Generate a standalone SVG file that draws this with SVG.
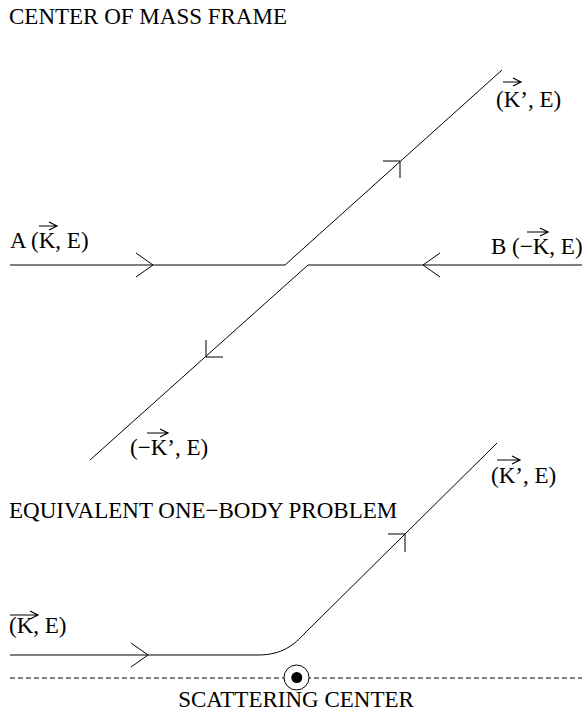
<svg xmlns="http://www.w3.org/2000/svg" width="582" height="715" viewBox="0 0 582 715">
<style>
text{font-family:"Liberation Serif","Times New Roman",serif;font-size:23px;fill:#000}
.ln{fill:none;stroke:#000;stroke-width:1}
.vec{fill:none;stroke:#000;stroke-width:1.2}
</style>
<rect width="582" height="715" fill="#fff"/>
<g id="titles">
<text x="9" y="24">CENTER OF MASS FRAME</text>
<text x="9" y="518">EQUIVALENT ONE−BODY PROBLEM</text>
<text x="296" y="707" text-anchor="middle">SCATTERING CENTER</text>
</g>
<g id="connectors">
<path class="ln" d="M10,265 H285 L502,70"/>
<path class="ln" d="M582,265 H308 L90,460"/>
<path class="ln" d="M136,253 L153,265 L136,277"/>
<path class="ln" d="M440,253 L423,265 L440,277"/>
<path class="ln" d="M383,161 H400 V178"/>
<path class="ln" d="M206,340 V357 H223"/>
<path class="ln" d="M10,655 H258 C282,655 294,645 305,633 L497,443"/>
<path class="ln" d="M131,643 L148,655 L131,667"/>
<path class="ln" d="M388,534 H405 V552"/>
<line class="ln" x1="10" y1="678" x2="582" y2="678" stroke-dasharray="5,3"/>
</g>
<g id="labelA">
<text x="10" y="248">A (K, E)</text>
<path class="vec" d="M39,226 H57 M49,222 L57,226 L49,230"/>
</g>
<g id="labelB">
<text x="491" y="254">B (−K, E)</text>
<path class="vec" d="M527,232 H548 M540,228 L548,232 L540,236"/>
</g>
<g id="labelKp">
<text x="496" y="107">(K’, E)</text>
<path class="vec" d="M503,82 H521 M513,78 L521,82 L513,86"/>
</g>
<g id="labelmKp">
<text x="130" y="455">(−K’, E)</text>
<path class="vec" d="M147,433 H168 M160,429 L168,433 L160,437"/>
</g>
<g id="labelK2">
<text x="9" y="633">(K, E)</text>
<path class="vec" d="M10,615 H38 M30,611 L38,615 L30,619"/>
</g>
<g id="labelKp2">
<text x="491" y="483">(K’, E)</text>
<path class="vec" d="M497,460 H520 M512,456 L520,460 L512,464"/>
</g>
<g id="scatterer">
<circle cx="296.5" cy="677.5" r="12.5" fill="#fff" stroke="#000" stroke-width="1"/>
<circle cx="296.8" cy="677.5" r="5.5" fill="#000"/>
</g>
</svg>
